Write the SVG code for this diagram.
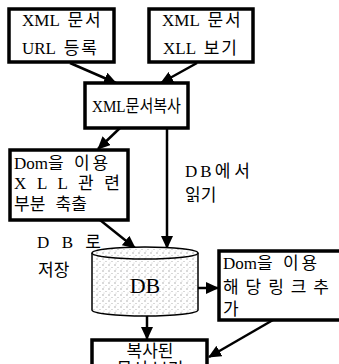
<svg xmlns="http://www.w3.org/2000/svg" width="339" height="364" viewBox="0 0 339 364">
<style>
.box{fill:#fff;stroke:#000;stroke-width:3.5}
.t{font-family:"Liberation Serif","Noto Sans CJK KR",serif;font-size:17px;fill:#000}
.c{text-anchor:middle}
.ln{stroke:#000;stroke-width:2.5;fill:none;marker-end:url(#ah)}
</style>
<defs>
<marker id="ah" markerUnits="userSpaceOnUse" markerWidth="14" markerHeight="12" refX="12" refY="6" orient="auto">
<path d="M0,0 L13,6 L0,12 Z" fill="#000"/>
</marker>
<pattern id="dots" width="6" height="6" patternUnits="userSpaceOnUse">
<rect width="6" height="6" fill="#fff"/>
<circle cx="1" cy="1" r="0.7" fill="#999"/>
<circle cx="4" cy="3.5" r="0.6" fill="#aaa"/>
<circle cx="2" cy="5" r="0.5" fill="#bbb"/>
</pattern>
</defs>
<g id="connectors">
<line class="ln" x1="70" y1="63" x2="116" y2="83"/>
<line class="ln" x1="197" y1="63" x2="161" y2="83"/>
<line class="ln" x1="120" y1="128" x2="98" y2="149"/>
<line class="ln" x1="167" y1="128" x2="167" y2="248"/>
<line class="ln" x1="100" y1="220" x2="135" y2="248"/>
<line class="ln" x1="198" y1="288" x2="218" y2="288"/>
<line class="ln" x1="147" y1="316" x2="147" y2="339"/>
<line class="ln" x1="273" y1="320" x2="209" y2="357"/>
</g>
<g id="n1">
<rect class="box" x="9" y="9" width="105" height="53"/>
<text class="t" x="22" y="26" word-spacing="4"><tspan>XML</tspan> <tspan letter-spacing="2">문서</tspan></text>
<text class="t" x="22" y="54" word-spacing="4"><tspan>URL</tspan> <tspan letter-spacing="2">등록</tspan></text>
</g>
<g id="n2">
<rect class="box" x="149" y="9" width="104" height="53"/>
<text class="t" x="162" y="26" word-spacing="4"><tspan>XML</tspan> <tspan letter-spacing="2">문서</tspan></text>
<text class="t" x="163" y="54" word-spacing="4"><tspan>XLL</tspan> <tspan letter-spacing="2">보기</tspan></text>
</g>
<g id="n3">
<rect class="box" x="85" y="83" width="103" height="45"/>
<text class="t" x="92" y="112" textLength="89" lengthAdjust="spacingAndGlyphs">XML문서복사</text>
</g>
<g id="n4">
<rect class="box" x="10" y="150" width="118" height="70"/>
<text class="t" x="14" y="169" word-spacing="6">Dom을 <tspan letter-spacing="3">이용</tspan></text>
<text class="t" x="14" y="189" textLength="106">X L L 관 련</text>
<text class="t" x="14" y="210" word-spacing="6">부분 축출</text>
</g>
<g id="db">
<path d="M92,253 L92,310 A53,6 0 0 0 198,310 L198,253" fill="url(#dots)" stroke="#000" stroke-width="1.5"/>
<ellipse cx="145" cy="253" rx="53" ry="6" fill="url(#dots)" stroke="#000" stroke-width="1.5"/>
<text class="t c" x="145" y="293" style="font-size:22px">DB</text>
</g>
<g id="n5">
<rect class="box" x="219" y="251" width="130" height="69"/>
<text class="t" x="223" y="269" word-spacing="6">Dom을 <tspan letter-spacing="3">이용</tspan></text>
<text class="t" x="223" y="293" textLength="106">해 당 링 크 추</text>
<text class="t" x="223" y="315">가</text>
</g>
<g id="n6">
<rect class="box" x="92" y="340" width="115" height="40"/>
<text class="t c" x="150" y="357">복사된</text>
<text class="t c" x="150" y="375">문서 보기</text>
</g>
<g id="labels">
<text class="t" x="185" y="177"><tspan letter-spacing="3">DB</tspan><tspan letter-spacing="4">에서</tspan></text>
<text class="t" x="185" y="201">읽기</text>
<text class="t" x="37" y="248" textLength="64">D B 로</text>
<text class="t" x="38" y="276">저장</text>
</g>
</svg>
